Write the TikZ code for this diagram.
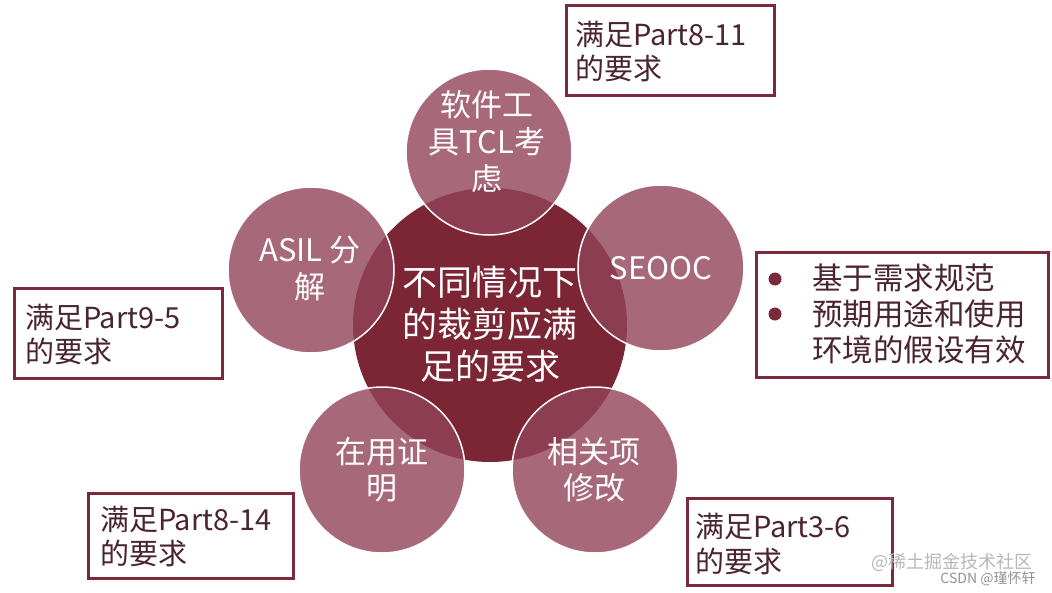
\documentclass[tikz,border=0pt]{standalone}
\usepackage{fontspec}
\setmainfont{Noto Sans CJK SC}
\definecolor{core}{HTML}{7B2535}
\definecolor{petal}{RGB}{145,67,89}
\definecolor{boxline}{HTML}{7A2A3A}
\definecolor{boxtext}{HTML}{4A2430}
\definecolor{wm}{HTML}{B8B8B8}
\tikzset{
  petalc/.style={circle, fill=petal, fill opacity=0.8, draw=white, line width=1.5pt, minimum size=166pt, inner sep=0pt},
  petaltext/.style={text=white, align=center, inner sep=0pt, font=\fontsize{31}{37}\selectfont},
  reqbox/.style={draw=boxline, line width=3pt, fill=white, rectangle, inner sep=0pt},
  reqtext/.style={text=boxtext, align=left, inner sep=0pt, font=\fontsize{29}{34}\selectfont},
  bulletdot/.style={circle, fill=boxline, minimum size=13pt, inner sep=0pt},
}
\begin{document}
\begin{tikzpicture}[x=1pt,y=-1pt]
\fill[white] (0,0) rectangle (1052,592);
\useasboundingbox (0,0) rectangle (1052,592);
% centre
\node[circle, fill=core, minimum size=274pt, inner sep=0pt] (core) at (490,325) {};
% petals
\node[petalc] (ptop) at (489,152) {};
\node[petalc] (pleft) at (311,270) {};
\node[petalc] (pright) at (661,268) {};
\node[petalc] (pbl) at (382,470) {};
\node[petalc] (pbr) at (595,470) {};
% texts
\node[text=white, align=center, inner sep=0pt, font=\fontsize{35}{42}\selectfont] (coret) at (490,324) {不同情况下\\的裁剪应满\\足的要求};
\node[petaltext] (ttop) at (487,142) {软件工\\具TCL考\\虑};
\node[petaltext] (tleft) at (310,269) {ASIL 分\\解};
\node[petaltext] (tright) at (661,268) {SEOOC};
\node[petaltext, font=\fontsize{31}{36}\selectfont] (tbl) at (382,470) {在用证\\明};
\node[petaltext, font=\fontsize{31}{36}\selectfont] (tbr) at (594,470) {相关项\\修改};
% requirement boxes
\node[reqbox, minimum width=208pt, minimum height=90pt] (btop) at (670,50) {};
\node[reqtext, text width=190pt] (btopt) at (670,52) {满足Part8-11\\的要求};
\node[reqbox, minimum width=208pt, minimum height=90pt] (bleft) at (118,333) {};
\node[reqtext, text width=186pt] (bleftt) at (118,335) {满足Part9-5\\的要求};
\node[reqbox, minimum width=205pt, minimum height=85pt] (bbl) at (190.5,535.5) {};
\node[reqtext, text width=181pt] (bblt) at (190.5,537) {满足Part8-14\\的要求};
\node[reqbox, minimum width=205pt, minimum height=87pt] (bbr) at (789.5,541.5) {};
\node[reqtext, text width=189pt, font=\fontsize{29}{35}\selectfont] (bbrt) at (789.5,544) {满足Part3-6\\的要求};
\node[reqbox, minimum width=292pt, minimum height=125pt] (bright) at (902,314.5) {};
\node[reqtext, anchor=west, font=\fontsize{30.5}{36}\selectfont] (brightt) at (812,314) {基于需求规范\\预期用途和使用\\环境的假设有效};
\node[bulletdot] (dot1) at (775,279) {};
\node[bulletdot] (dot2) at (775,314) {};
% watermark
\node[text=wm, inner sep=0pt, font=\fontsize{18}{20}\selectfont] (wm1) at (952,562) {@稀土掘金技术社区};
\node[text=wm!80!black, inner sep=0pt, font=\fontsize{14}{16}\selectfont] (wm2) at (988,579) {CSDN @瑾怀轩};
\end{tikzpicture}
\end{document}
